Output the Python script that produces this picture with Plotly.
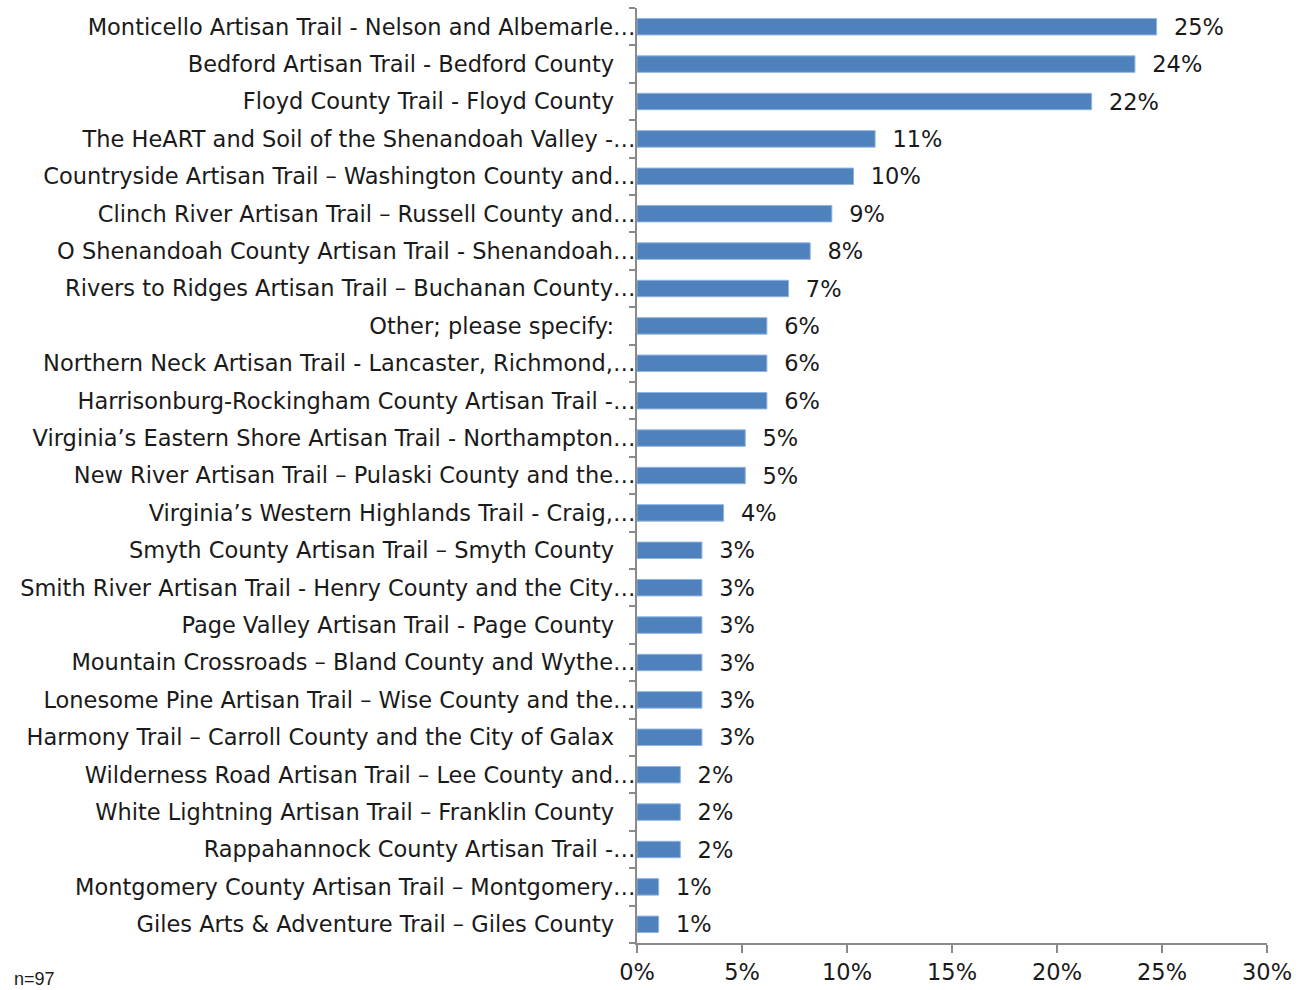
import plotly.graph_objects as go

categories = [
    "Monticello Artisan Trail - Nelson and Albemarle…",
    "Bedford Artisan Trail - Bedford County",
    "Floyd County Trail - Floyd County",
    "The HeART and Soil of the Shenandoah Valley -…",
    "Countryside Artisan Trail – Washington County and…",
    "Clinch River Artisan Trail – Russell County and…",
    "O Shenandoah County Artisan Trail - Shenandoah…",
    "Rivers to Ridges Artisan Trail – Buchanan County…",
    "Other; please specify:",
    "Northern Neck Artisan Trail - Lancaster, Richmond,…",
    "Harrisonburg-Rockingham County Artisan Trail -…",
    "Virginia’s Eastern Shore Artisan Trail - Northampton…",
    "New River Artisan Trail – Pulaski County and the…",
    "Virginia’s Western Highlands Trail - Craig,…",
    "Smyth County Artisan Trail – Smyth County",
    "Smith River Artisan Trail - Henry County and the City…",
    "Page Valley Artisan Trail - Page County",
    "Mountain Crossroads – Bland County and Wythe…",
    "Lonesome Pine Artisan Trail – Wise County and the…",
    "Harmony Trail – Carroll County and the City of Galax",
    "Wilderness Road Artisan Trail – Lee County and…",
    "White Lightning Artisan Trail – Franklin County",
    "Rappahannock County Artisan Trail -…",
    "Montgomery County Artisan Trail – Montgomery…",
    "Giles Arts & Adventure Trail – Giles County",
]
counts = [24, 23, 21, 11, 10, 9, 8, 7, 6, 6, 6, 5, 5, 4, 3, 3, 3, 3, 3, 3, 2, 2, 2, 1, 1]
n_respondents = 97
values = [c / n_respondents for c in counts]
value_labels = ["25%", "24%", "22%", "11%", "10%", "9%", "8%", "7%", "6%", "6%", "6%", "5%", "5%",
                "4%", "3%", "3%", "3%", "3%", "3%", "3%", "2%", "2%", "2%", "1%", "1%"]
x_ticks = [0, 0.05, 0.10, 0.15, 0.20, 0.25, 0.30]
x_tick_labels = ["0%", "5%", "10%", "15%", "20%", "25%", "30%"]

font_family = "DejaVu Sans"
text_color = "#1a1a1a"
axis_color = "#8a8a8a"
label_size = 22.5

tick_text = [c if c.endswith("…") else c + "\u00a0\u00a0\u00a0" for c in categories]

fig = go.Figure()
fig.add_trace(go.Bar(
    y=categories,
    x=values,
    orientation="h",
    marker=dict(color="#4F81BD", line=dict(color="#8EB4E3", width=1)),
    text=["\u00a0\u00a0" + v for v in value_labels],
    textposition="outside",
    constraintext="none",
    textfont=dict(family=font_family, size=label_size, color=text_color),
    cliponaxis=False,
    width=0.44,
))

fig.update_layout(
    width=1303,
    height=990,
    margin=dict(l=637, r=36, t=8, b=47, autoexpand=False),
    paper_bgcolor="white",
    plot_bgcolor="white",
    showlegend=False,
    font=dict(family=font_family, size=label_size, color=text_color),
    xaxis=dict(
        range=[0, 0.30],
        tickvals=x_ticks,
        ticktext=x_tick_labels,
        showgrid=False,
        zeroline=False,
        showline=True,
        linecolor=axis_color,
        linewidth=2,
        ticks="outside",
        ticklen=8,
        tickcolor=axis_color,
        tickwidth=2,
        automargin=False,
        tickfont=dict(family=font_family, size=label_size, color=text_color),
    ),
    yaxis=dict(
        categoryorder="array",
        categoryarray=categories,
        autorange="reversed",
        tickmode="array",
        tickvals=categories,
        ticktext=tick_text,
        tickson="boundaries",
        showgrid=False,
        showline=True,
        linecolor=axis_color,
        linewidth=2,
        ticks="outside",
        ticklen=6,
        tickcolor=axis_color,
        tickwidth=2,
        ticklabelstandoff=-5,
        automargin=False,
        tickfont=dict(family=font_family, size=label_size, color=text_color),
    ),
    annotations=[dict(
        text="n=97", xref="paper", yref="paper", x=(12 - 637) / 630, y=-36 / 935,
        xanchor="left", yanchor="middle", showarrow=False,
        font=dict(family="Liberation Sans", size=18, color=text_color),
    )],
)

fig.write_html(
    "out.html",
    config={"displayModeBar": False},
    post_script="document.body.style.margin='0';document.body.style.overflow='hidden';",
)
